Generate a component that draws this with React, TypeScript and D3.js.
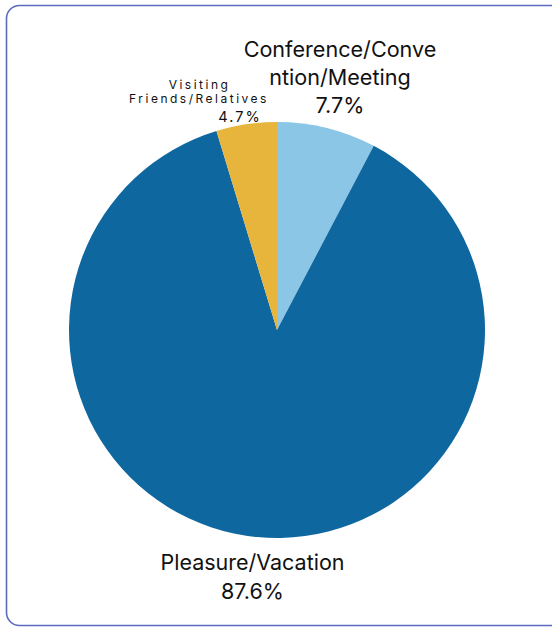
import React, { useEffect, useRef } from 'react';
import * as d3 from 'd3';

const categories = ['Conference/Convention/Meeting', 'Pleasure/Vacation', 'Visiting Friends/Relatives'];
const shares = [7.7, 87.6, 4.7];
const colors = ['#8bc6e6', '#0f67a0', '#e7b53b'];

// label lines as they wrap in the original
const labelLines = [
    ['Conference/Conve', 'ntion/Meeting', '7.7%'],
    ['Pleasure/Vacation', '87.6%'],
    ['Visiting', 'Friends/Relatives', '4.7%'],
];

const W = 552;
const H = 628;

const App: React.FC = () => {
    const svgRef = useRef<SVGSVGElement>(null);

    useEffect(() => {
        if (!svgRef.current) return;
        const svg = d3.select(svgRef.current);
        svg.selectAll('*').remove();

        // frame
        svg.append('rect')
            .attr('x', 6.5).attr('y', 5.5)
            .attr('width', 570).attr('height', 620)
            .attr('rx', 13)
            .attr('fill', '#fff')
            .attr('stroke', '#5c6bc0')
            .attr('stroke-width', 1.6);

        const cx = 277, cy = 330, r = 208;
        const data = categories.map((c, i) => ({ name: c, value: shares[i], color: colors[i] }));
        const pie = d3.pie<typeof data[number]>().sort(null).value(d => d.value);
        const arc = d3.arc<d3.PieArcDatum<typeof data[number]>>().innerRadius(0).outerRadius(r);

        const g = svg.append('g').attr('transform', `translate(${cx},${cy})`);
        g.selectAll('path')
            .data(pie(data))
            .enter().append('path')
            .attr('d', arc)
            .attr('fill', d => d.data.color);

        const font = 'Inter, "Noto Sans", sans-serif';

        // Conference label
        const t0 = svg.append('text')
            .attr('text-anchor', 'middle')
            .attr('font-family', font)
            .attr('font-size', 21.6)
            .attr('fill', '#111');
        [57, 85, 113].forEach((y, i) => {
            t0.append('tspan').attr('x', 340).attr('y', y).text(labelLines[0][i]);
        });

        // Pleasure label
        const t1 = svg.append('text')
            .attr('text-anchor', 'middle')
            .attr('font-family', font)
            .attr('font-size', 21.5)
            .attr('fill', '#111');
        [570, 599].forEach((y, i) => {
            t1.append('tspan').attr('x', 252.5).attr('y', y).text(labelLines[1][i]);
        });

        // Visiting label (small, letter-spaced)
        const t2 = svg.append('text')
            .attr('text-anchor', 'middle')
            .attr('font-family', font)
            .attr('fill', '#111')
            .attr('letter-spacing', 2.5);
        t2.append('tspan').attr('x', 199.5).attr('y', 89).attr('font-size', 12).text(labelLines[2][0]);
        t2.append('tspan').attr('x', 199).attr('y', 103).attr('font-size', 12).text(labelLines[2][1]);
        t2.append('tspan').attr('x', 240).attr('y', 122).attr('font-size', 14.5)
            .attr('letter-spacing', 2).text(labelLines[2][2]);
    }, []);

    return (
        <svg ref={svgRef} width={W} height={H}
            style={{ position: 'absolute', left: 0, top: 0, display: 'block' }}
            viewBox={`0 0 ${W} ${H}`} />
    );
};

export default App;
